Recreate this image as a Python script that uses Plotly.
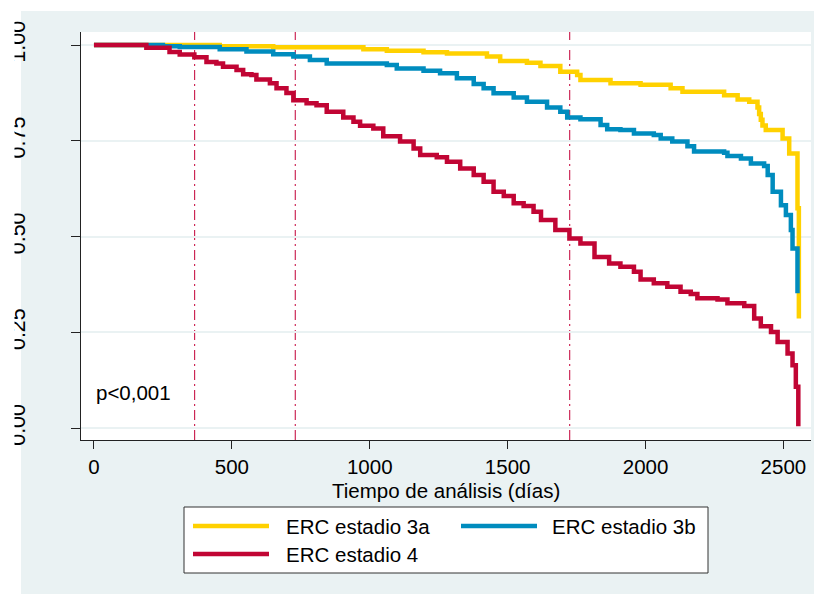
import plotly.graph_objects as go

# ---------------- data ----------------
series_names = ["ERC estadio 3a", "ERC estadio 3b", "ERC estadio 4"]
series_colors = ["#FFD100", "#008CBE", "#C10534"]

days_3a = [0, 456, 650, 977, 1062, 1195, 1280, 1425, 1473, 1570, 1619, 1691, 1752, 1764,
           1873, 1982, 2091, 2134, 2285, 2334, 2376, 2406, 2412, 2418, 2424, 2436, 2497,
           2521, 2551, 2556]
surv_3a = [1.0, 0.997, 0.994, 0.989, 0.985, 0.981, 0.978, 0.970, 0.958, 0.954, 0.945, 0.930,
           0.922, 0.909, 0.900, 0.896, 0.887, 0.878, 0.869, 0.858, 0.852, 0.837, 0.820, 0.805,
           0.790, 0.778, 0.756, 0.717, 0.574, 0.286]

days_3b = [0, 250, 311, 456, 553, 650, 723, 783, 844, 1062, 1098, 1195, 1255, 1316, 1377,
           1413, 1449, 1522, 1570, 1643, 1691, 1716, 1764, 1837, 1861, 1909, 1958, 2030,
           2055, 2097, 2152, 2176, 2285, 2297, 2346, 2382, 2430, 2443, 2461, 2491, 2509,
           2527, 2533, 2551]
surv_3b = [1.0, 0.997, 0.995, 0.989, 0.983, 0.976, 0.970, 0.961, 0.952, 0.948, 0.939, 0.933,
           0.926, 0.913, 0.898, 0.887, 0.874, 0.863, 0.852, 0.837, 0.826, 0.811, 0.806, 0.791,
           0.780, 0.778, 0.769, 0.765, 0.756, 0.748, 0.736, 0.722, 0.719, 0.710, 0.704, 0.691,
           0.684, 0.661, 0.617, 0.582, 0.556, 0.517, 0.469, 0.352]

days_4 = [0, 190, 274, 311, 364, 408, 444, 468, 517, 541, 571, 589, 638, 662, 698, 723, 771,
          807, 844, 904, 941, 965, 1013, 1049, 1110, 1159, 1183, 1243, 1280, 1328, 1377, 1413,
          1449, 1486, 1522, 1558, 1594, 1621, 1673, 1724, 1764, 1815, 1868, 1909, 1958, 1982,
          2030, 2079, 2127, 2164, 2188, 2261, 2297, 2358, 2394, 2418, 2455, 2479, 2515, 2533,
          2545, 2554]
surv_4 = [1.0, 0.993, 0.982, 0.975, 0.968, 0.956, 0.952, 0.943, 0.935, 0.924, 0.922, 0.910,
          0.900, 0.887, 0.875, 0.856, 0.848, 0.843, 0.826, 0.811, 0.800, 0.789, 0.782, 0.762,
          0.748, 0.730, 0.713, 0.707, 0.695, 0.678, 0.661, 0.643, 0.617, 0.606, 0.587, 0.580,
          0.565, 0.543, 0.517, 0.495, 0.482, 0.447, 0.430, 0.421, 0.408, 0.388, 0.378, 0.369,
          0.356, 0.350, 0.339, 0.336, 0.326, 0.319, 0.286, 0.266, 0.251, 0.225, 0.195, 0.164,
          0.108, 0.005]

ref_days = [365, 730, 1725]
x_ticks = [0, 500, 1000, 1500, 2000, 2500]
y_ticks = [0.0, 0.25, 0.5, 0.75, 1.0]
y_tick_labels = ["0.00", "0.25", "0.50", "0.75", "1.00"]
x_title = "Tiempo de análisis (días)"
p_text = "p<0,001"

# ---------------- figure ----------------
W, H = 814, 594
ML, MR, MT, MB = 81, 3, 32, 154
PW, PH = W - ML - MR, H - MT - MB
FONT = "Liberation Sans, Arial, sans-serif"
BG = "#EAF2F3"


def px(x):
    return (x - ML) / PW


def py(y):
    return (MT + PH - y) / PH


fig = go.Figure()
for d, s, name, col in zip([days_3a, days_3b, days_4], [surv_3a, surv_3b, surv_4],
                           series_names, series_colors):
    fig.add_trace(go.Scatter(x=d, y=s, mode="lines", name=name,
                             line=dict(color=col, width=4.5, shape="hv"),
                             showlegend=False, hoverinfo="skip"))

shapes = []
# white margins of the original crop
shapes.append(dict(type="rect", xref="paper", yref="paper", x0=px(0), x1=px(21),
                   y0=py(H), y1=py(0), fillcolor="white", line_width=0, layer="below"))
shapes.append(dict(type="rect", xref="paper", yref="paper", x0=px(0), x1=px(W),
                   y0=py(11), y1=py(0), fillcolor="white", line_width=0, layer="below"))
shapes.append(dict(type="rect", xref="paper", yref="paper", x0=px(0), x1=px(14.5),
                   y0=py(H), y1=py(0), fillcolor="white", line_width=0, layer="above"))
# reference lines
for d in ref_days:
    shapes.append(dict(type="line", xref="x", yref="paper", x0=d, x1=d, y0=0, y1=1,
                       line=dict(color="#C8184A", width=1.1, dash="10px,4px,2px,4px"),
                       layer="below"))
# legend box
shapes.append(dict(type="rect", xref="paper", yref="paper", x0=px(184), x1=px(708),
                   y0=py(573), y1=py(507), fillcolor="white",
                   line=dict(color="#333333", width=1)))
leg_pos = [(193, 269, 526, 284), (461, 537, 526, 550), (193, 269, 554, 284)]
annotations = []
for (x0, x1, yy, tx), name, col in zip(leg_pos, series_names, series_colors):
    shapes.append(dict(type="line", xref="paper", yref="paper", x0=px(x0), x1=px(x1),
                       y0=py(yy), y1=py(yy), line=dict(color=col, width=4.5)))
    annotations.append(dict(text=name, xref="paper", yref="paper", x=px(tx), y=py(yy),
                            xanchor="left", yanchor="middle", showarrow=False,
                            font=dict(size=20.5, color="black", family=FONT)))

annotations.append(dict(text=p_text, xref="x", yref="y", x=0, y=0.092, xanchor="left",
                        yanchor="middle", showarrow=False,
                        font=dict(size=20.5, color="black", family=FONT)))
# x-axis title
annotations.append(dict(text=x_title, xref="paper", yref="paper", x=0.5, y=py(490),
                        xanchor="center", yanchor="middle", showarrow=False, borderpad=0,
                        font=dict(size=20.5, color="black", family=FONT)))

fig.update_layout(
    width=W, height=H,
    margin=dict(l=ML, r=MR, t=MT, b=MB, pad=0),
    paper_bgcolor=BG, plot_bgcolor="white",
    font=dict(family=FONT, size=20.5, color="black"),
    shapes=shapes, annotations=annotations,
    showlegend=False,
    xaxis=dict(range=[-47, 2600], tickvals=x_ticks, ticks="outside", ticklen=8,
               tickcolor="#222222", tickwidth=1, showline=True, linecolor="#222222",
               linewidth=1, showgrid=False, zeroline=False, automargin=False,
               tickfont=dict(size=20.5, color="black", family=FONT)),
    yaxis=dict(range=[-0.031, 1.034], tickvals=y_ticks, ticktext=y_tick_labels,
               ticks="outside", ticklen=9, tickcolor="#222222", tickwidth=1,
               showline=True, linecolor="#222222", linewidth=1, showgrid=True,
               gridcolor=BG, gridwidth=2, zeroline=False, tickangle=-90,
               ticklabelstandoff=37, automargin=False,
               tickfont=dict(size=21.5, color="black", family=FONT)),
)

fig.write_html(
    "out.html",
    config={"displayModeBar": False},
    post_script="document.body.style.margin='0';document.body.style.overflow='hidden';",
)
